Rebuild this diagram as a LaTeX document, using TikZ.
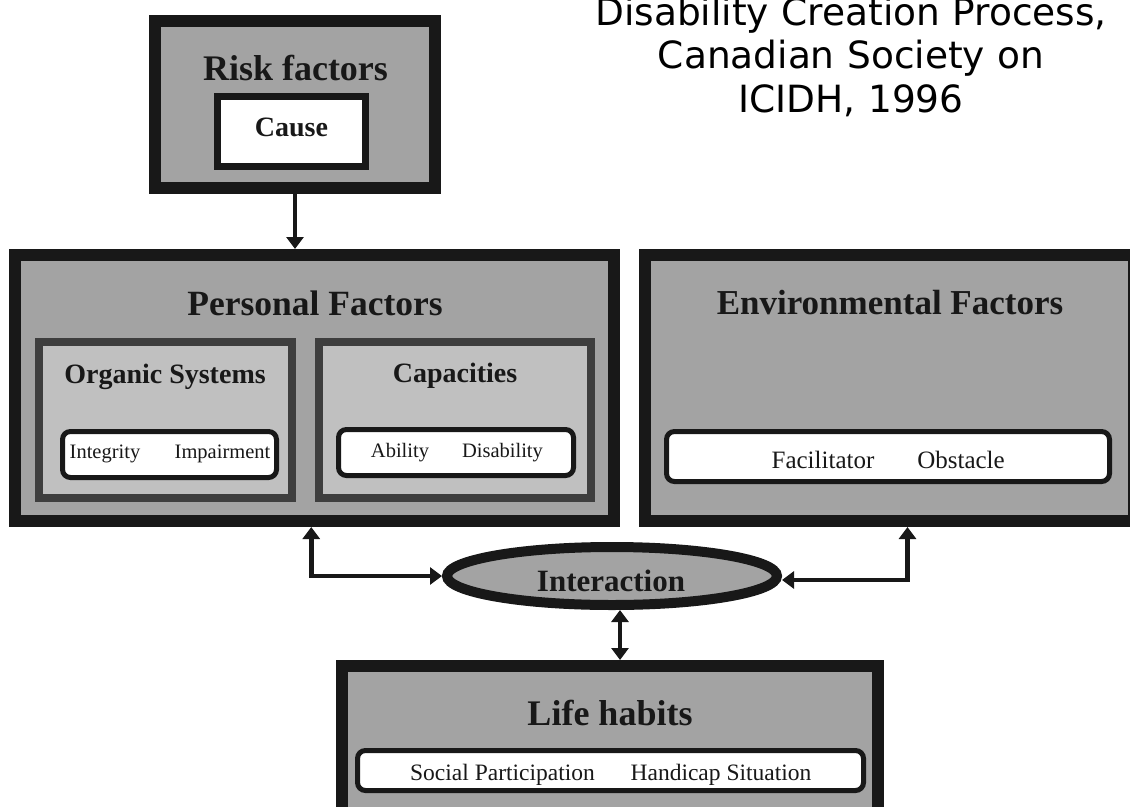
\documentclass[tikz,border=0pt]{standalone}
\usepackage{fontspec}
\setmainfont{Liberation Serif}
\newfontfamily\titlefont{DejaVu Sans}
\usetikzlibrary{shapes.geometric,arrows.meta}
\definecolor{boxline}{RGB}{24,24,24}
\definecolor{midgray}{RGB}{163,163,163}
\definecolor{palegray}{RGB}{192,192,192}
\definecolor{innerline}{RGB}{62,62,62}
\definecolor{textc}{RGB}{24,24,24}
\tikzset{
  Tri/.tip={Triangle[length=12pt,width=17pt]},
  bigbox/.style={rectangle,draw=boxline,line width=12pt,fill=midgray,inner sep=0pt},
  subbox/.style={rectangle,draw=innerline,line width=8pt,fill=palegray,inner sep=0pt},
  pairbox/.style={rectangle,rounded corners=8pt,draw=boxline,line width=5pt,fill=white,inner sep=0pt},
  causebox/.style={rectangle,draw=boxline,line width=7pt,fill=white,inner sep=0pt},
  ovalbox/.style={ellipse,draw=boxline,line width=10pt,fill=midgray,inner sep=0pt},
  lbl/.style={inner sep=0pt,anchor=base,text=textc},
  headA/.style={lbl,font=\bfseries\fontsize{36}{40}\selectfont},
  headB/.style={lbl,font=\bfseries\fontsize{28}{32}\selectfont},
  smalltxt/.style={lbl,font=\fontsize{20.5}{24}\selectfont},
  arrone/.style={draw=boxline,line width=4pt,-Tri},
  arrtwo/.style={draw=boxline,line width=4.5pt,Tri-Tri}
}
\begin{document}
\begin{tikzpicture}[x=1pt,y=-1pt]
\useasboundingbox (0,0) rectangle (1130,806);
\fill[white] (0,0) rectangle (1130,806);

% title
\node[inner sep=0pt,anchor=base,align=center,text width=600pt,
      font=\titlefont\fontsize{37.5}{43.5}\selectfont] (title) at (851,25)
  {Disability Creation Process,\\Canadian Society on\\ICIDH, 1996};

% risk factors
\node[bigbox,minimum width=280pt,minimum height=167pt] (risk) at (295,104.5) {};
\node[causebox,minimum width=148pt,minimum height=70pt] (cause) at (291.5,131.5) {};
\node[headA] (trisk) at (295.5,80) {Risk factors};
\node[headB] (tcause) at (291.5,136.5) {Cause};

% personal factors
\node[bigbox,minimum width=599.5pt,minimum height=266pt] (personal) at (314.25,388) {};
\node[headA,font=\bfseries\fontsize{35.5}{40}\selectfont] (tpers) at (315,315) {Personal Factors};
\node[subbox,minimum width=253pt,minimum height=156pt] (organic) at (165.5,420) {};
\node[subbox,minimum width=272pt,minimum height=156pt] (capac) at (455,420) {};
\node[headB] (torg) at (165,383) {Organic Systems};
\node[headB] (tcap) at (455,382) {Capacities};
\node[pairbox,minimum width=214pt,minimum height=46pt] (integ) at (169.5,454.5) {};
\node[pairbox,minimum width=235pt,minimum height=46pt] (abil) at (456,452.5) {};
\node[smalltxt] (tinteg) at (105,458) {Integrity};
\node[smalltxt] (timp) at (222.5,458) {Impairment};
\node[smalltxt] (tabil) at (400,457) {Ability};
\node[smalltxt] (tdis) at (502.5,457) {Disability};

% environmental factors
\node[bigbox,minimum width=489pt,minimum height=266pt] (env) at (889.5,388) {};
\node[headA,font=\bfseries\fontsize{35}{40}\selectfont] (tenv) at (890,314) {Environmental Factors};
\node[pairbox,minimum width=443pt,minimum height=50pt] (facil) at (888,456.5) {};
\node[lbl,font=\fontsize{25}{29}\selectfont] (tfac) at (823,468) {Facilitator};
\node[lbl,font=\fontsize{25}{29}\selectfont] (tobs) at (961,468) {Obstacle};

% interaction
\node[ovalbox,minimum width=330pt,minimum height=58pt] (ia) at (612,576) {};
\node[lbl,font=\bfseries\fontsize{31}{35}\selectfont] (tia) at (611,591) {Interaction};

% life habits
\node[bigbox,minimum width=536pt,minimum height=154pt] (life) at (610,743) {};
\node[headA] (tlife) at (610,725) {Life habits};
\node[pairbox,minimum width=506pt,minimum height=40pt] (social) at (610.5,770.5) {};
\node[lbl,font=\fontsize{23.5}{27}\selectfont] (tsoc) at (502.5,780) {Social Participation};
\node[lbl,font=\fontsize{23.5}{27}\selectfont] (thand) at (721,780) {Handicap Situation};

% connectors
\draw[arrone] (risk.south) -- (risk.south |- personal.north);
\draw[arrtwo] ([xshift=-3pt]personal.south) |- (ia.west);
\draw[arrtwo] ([xshift=18pt]env.south) |- ([yshift=-4pt]ia.east);
\draw[arrtwo] ([xshift=8pt]ia.south) -- ([xshift=8pt]ia.south |- life.north);
\end{tikzpicture}
\end{document}
